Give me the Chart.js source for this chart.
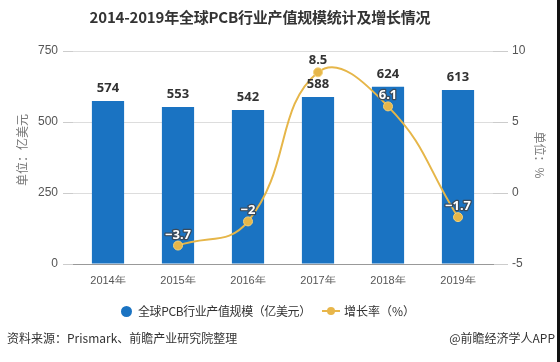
<!DOCTYPE html>
<html>
<head>
<meta charset="utf-8">
<script src="https://cdn.jsdelivr.net/npm/chart.js@4"></script>
<style>
  body { margin: 0; background: #fff; }
  #wrap { position: relative; width: 560px; height: 362px; overflow: hidden; font-family: "Noto Sans CJK SC", "Microsoft YaHei", sans-serif; }
  #c { position: absolute; left: 0; top: 0; }
  .title { position: absolute; left: 0; width: 520px; top: 6px; text-align: center; font-size: 15px; font-weight: bold; color: #333; letter-spacing: -0.2px; }
  .legend { position: absolute; top: 302px; left: 0; width: 560px; font-size: 12px; color: #333; }
  .leg { position: absolute; top: 0; line-height: 18px; white-space: nowrap; }
  .dot { display: inline-block; width: 11px; height: 11px; border-radius: 50%; background: #1a73c2; vertical-align: -1px; margin-right: 6px; }
  .lmark { display: inline-block; position: relative; width: 18px; height: 10px; margin-right: 4px; vertical-align: 0; }
  .lmark:before { content: ""; position: absolute; left: 0; right: 0; top: 4px; height: 2px; background: #e8b64a; }
  .lmark:after { content: ""; position: absolute; left: 5px; top: 1px; width: 8px; height: 8px; border-radius: 50%; background: #e8b64a; }
  .src { position: absolute; top: 329px; left: 7px; font-size: 12px; color: #333; }
  .app { position: absolute; top: 329px; right: 5px; font-size: 12px; color: #333; }
  .edge { position: absolute; top: 0; right: 0; width: 3px; height: 362px; background: #111; }
</style>
</head>
<body>
<div id="wrap">
  <canvas id="c" width="560" height="362"></canvas>
  <div class="title">2014-2019年全球PCB行业产值规模统计及增长情况</div>
  <div class="legend">
    <span class="leg" style="left:121px; letter-spacing:-0.4px"><span class="dot"></span>全球PCB行业产值规模（亿美元）</span>
    <span class="leg" style="left:322px"><span class="lmark"></span>增长率（%）</span>
  </div>
  <div class="src">资料来源：Prismark、前瞻产业研究院整理</div>
  <div class="app">@前瞻经济学人APP</div>
  <div class="edge"></div>
</div>
<script>
// PCB output value (100M USD) and growth rate (%)
const years = ["2014年", "2015年", "2016年", "2017年", "2018年", "2019年"];
const outputValue = [574, 553, 542, 588, 624, 613];
const growthRate = [null, -3.7, -2, 8.5, 6.1, -1.7];
const leftTicks = [0, 250, 500, 750];
const rightTicks = [-5, 0, 5, 10];

const barColor = "#1a73c2";
const lineColor = "#e6b649";

// value labels + axis titles
const labelPlugin = {
    id: "labels",
    afterDatasetsDraw(chart) {
        const ctx = chart.ctx;
        ctx.save();
        ctx.textAlign = "center";
        ctx.textBaseline = "alphabetic";

        // bar labels
        ctx.font = "bold 13px 'Noto Sans', sans-serif";
        ctx.fillStyle = "#333";
        chart.getDatasetMeta(1).data.forEach((bar, i) => {
            ctx.fillText(outputValue[i], bar.x, bar.y - 9);
        });

        // line labels
        chart.getDatasetMeta(0).data.forEach((pt, i) => {
            if (growthRate[i] === null) return;
            const txt = String(growthRate[i]).replace("-", "−");
            if (growthRate[i] === 8.5) {
                ctx.fillStyle = "#333";
                ctx.fillText(txt, pt.x, pt.y - 8);
            } else {
                ctx.lineWidth = 2.5;
                ctx.strokeStyle = "#3a4a5a";
                ctx.lineJoin = "round";
                ctx.strokeText(txt, pt.x, pt.y - 7);
                ctx.fillStyle = "#fff";
                ctx.fillText(txt, pt.x, pt.y - 7);
            }
        });

        // axis titles
        ctx.font = "12px 'Noto Sans CJK SC', sans-serif";
        ctx.fillStyle = "#777";
        ctx.textBaseline = "middle";
        ctx.save();
        ctx.translate(22, 150);
        ctx.rotate(-Math.PI / 2);
        ctx.fillText("单位：亿美元", 0, 0);
        ctx.restore();
        ctx.save();
        ctx.translate(540, 155);
        ctx.rotate(Math.PI / 2);
        ctx.fillText("单位：%", 0, 0);
        ctx.restore();
        ctx.restore();
    }
};

new Chart(document.getElementById("c"), {
    data: {
        labels: years,
        datasets: [
            {
                type: "line",
                label: "增长率（%）",
                data: growthRate,
                yAxisID: "y1",
                borderColor: lineColor,
                backgroundColor: lineColor,
                borderWidth: 2,
                tension: 0.45,
                pointRadius: 4.5,
                pointBackgroundColor: lineColor,
                pointBorderColor: "#f3d27a",
                pointBorderWidth: 1,
                order: 0
            },
            {
                type: "bar",
                label: "全球PCB行业产值规模（亿美元）",
                data: outputValue,
                yAxisID: "y",
                backgroundColor: barColor,
                barPercentage: 0.92,
                categoryPercentage: 0.5,
                order: 1
            }
        ]
    },
    options: {
        responsive: false,
        animation: false,
        layout: { padding: { top: 51, bottom: 78, left: 0, right: 0 } },
        plugins: {
            legend: { display: false },
            tooltip: { enabled: false }
        },
        scales: {
            x: {
                offset: true,
                grid: { display: false },
                border: { color: "#999" },
                ticks: { color: "#555", font: { size: 11 }, padding: 2 },
                afterFit(s) { s.height = 20; }
            },
            y: {
                position: "left",
                min: 0, max: 750,
                afterBuildTicks(s) { s.ticks = leftTicks.map(v => ({ value: v })); },
                grid: { color: "#ddd", tickLength: 10, tickColor: "#ccc" },
                border: { display: false },
                ticks: { color: "#555", font: { size: 12 }, padding: 5 },
                afterFit(s) { s.width = 73; }
            },
            y1: {
                position: "right",
                min: -5, max: 10,
                afterBuildTicks(s) { s.ticks = rightTicks.map(v => ({ value: v })); },
                grid: { drawOnChartArea: false, tickLength: 15, tickColor: "#ccc" },
                border: { display: false },
                ticks: { color: "#555", font: { size: 12 }, padding: 4 },
                afterFit(s) { s.width = 67; }
            }
        }
    },
    plugins: [labelPlugin]
});
</script>
</body>
</html>
